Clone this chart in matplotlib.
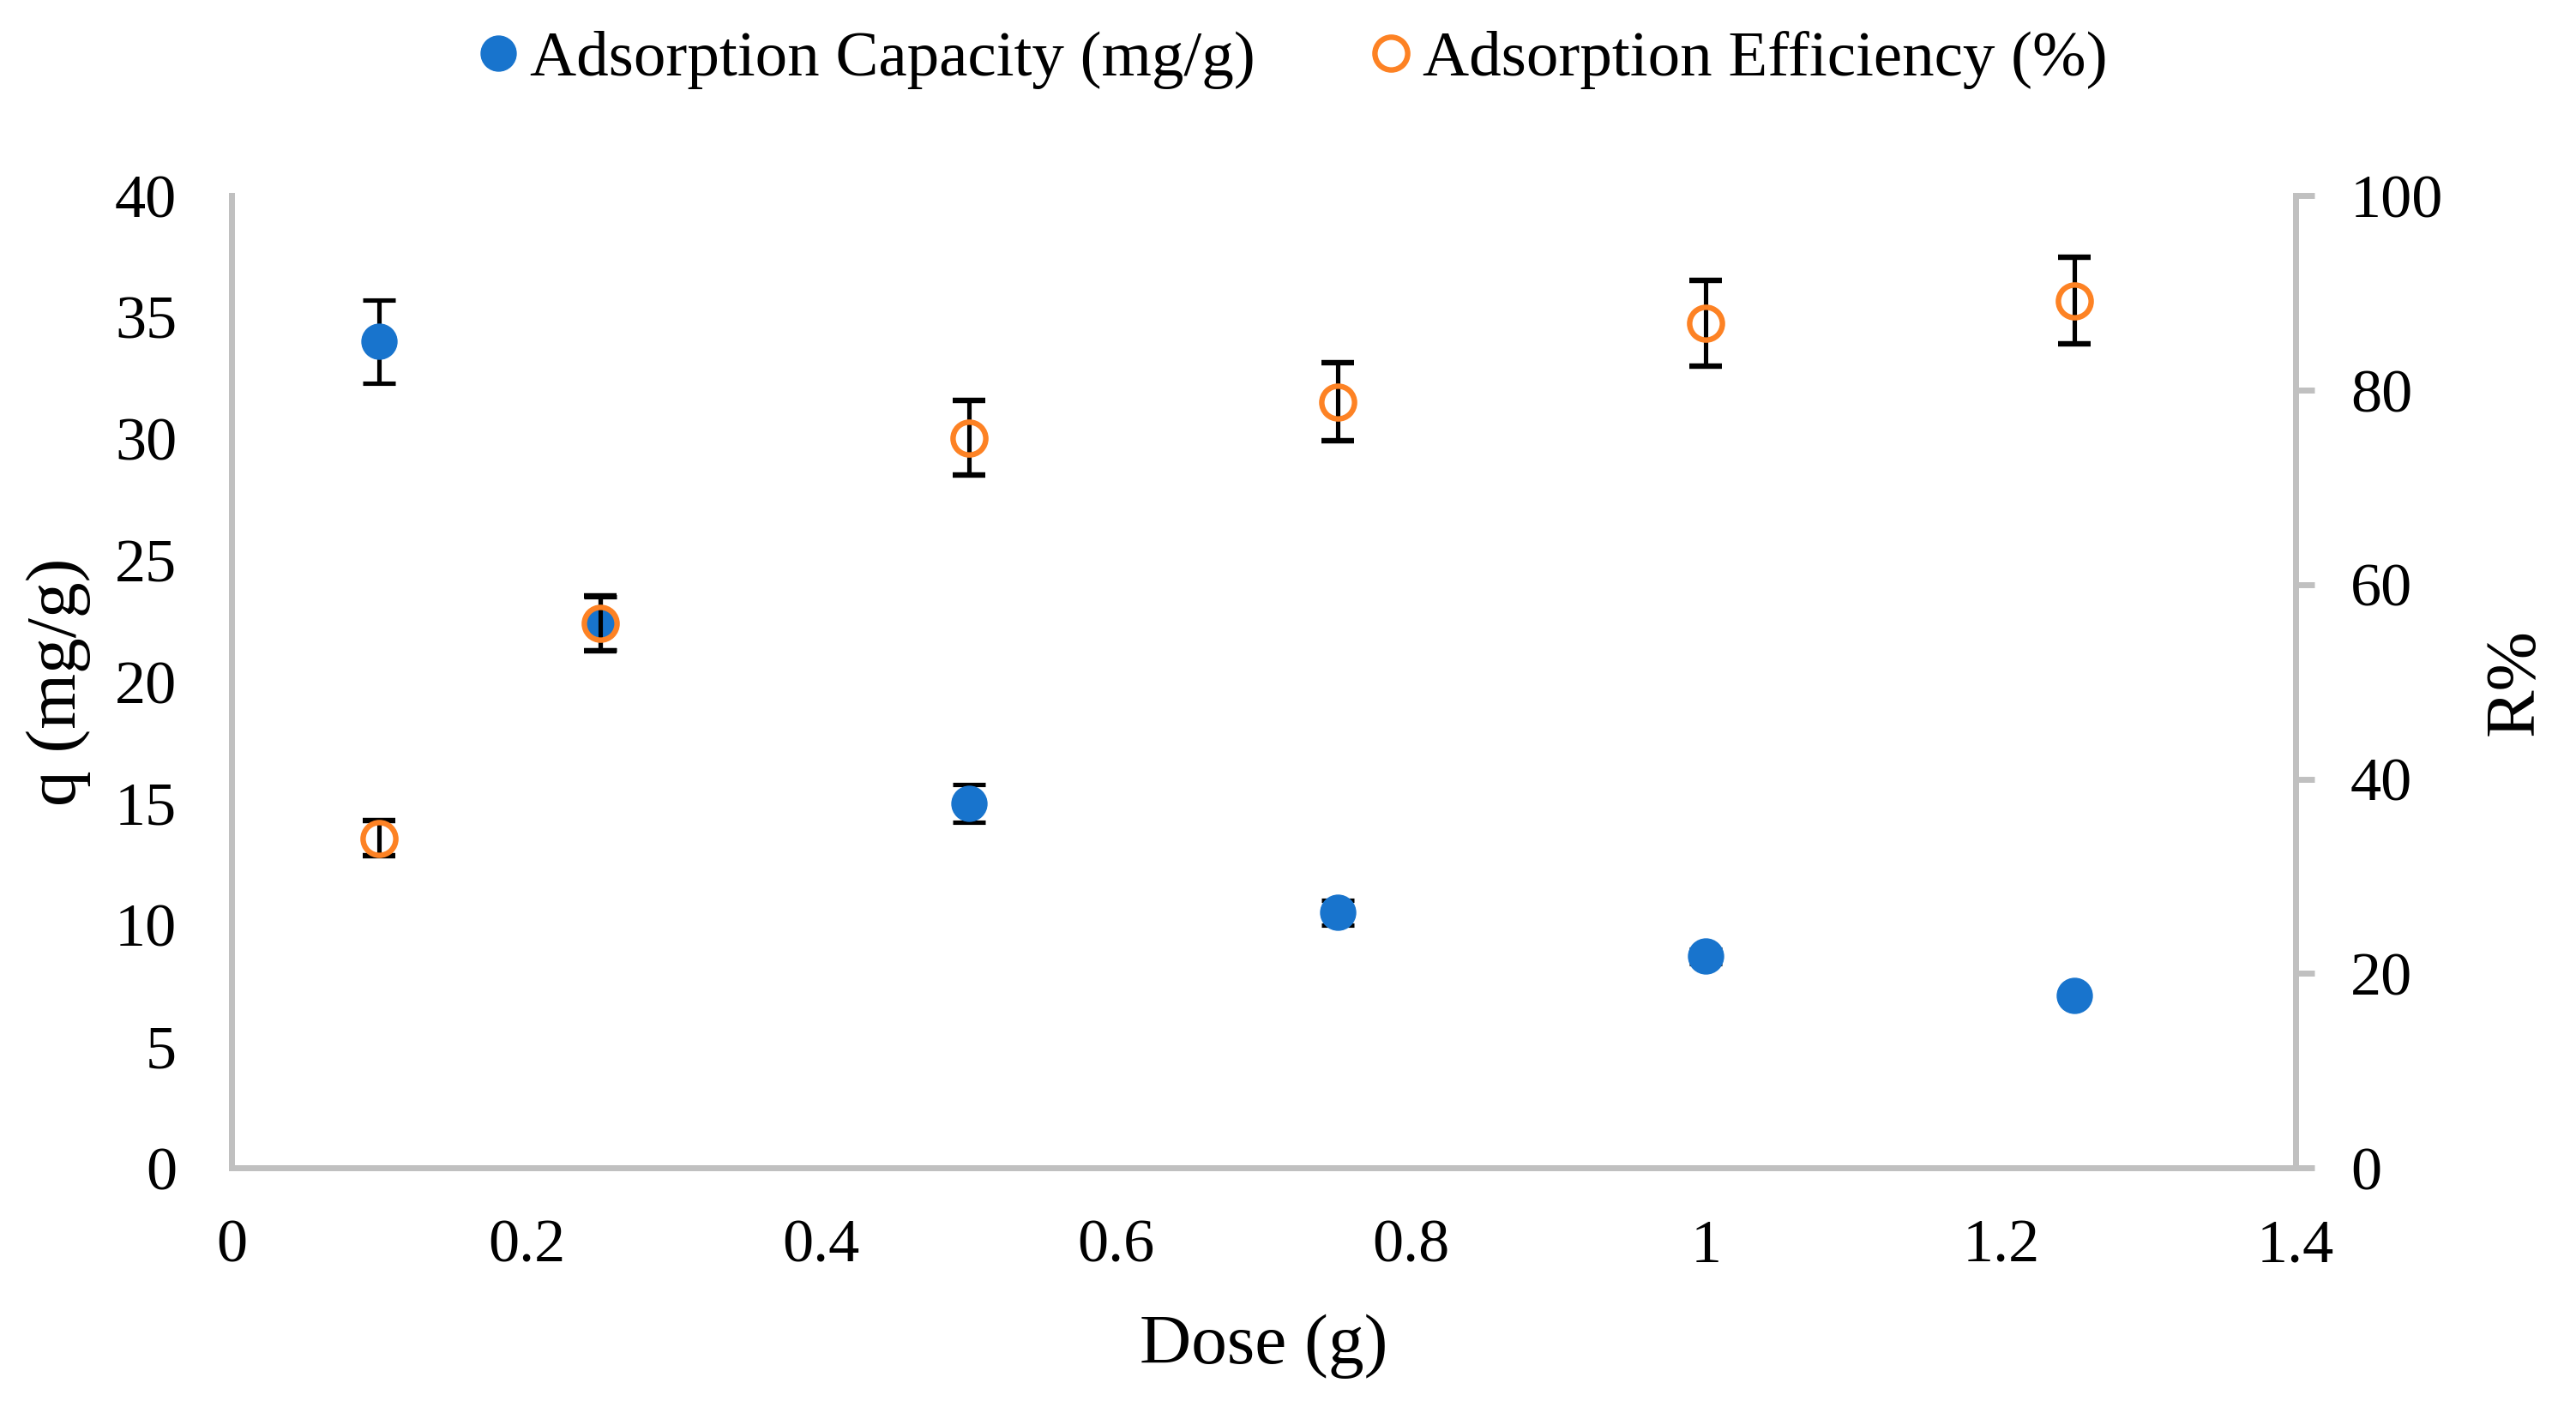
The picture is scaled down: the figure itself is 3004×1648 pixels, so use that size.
import matplotlib
matplotlib.use("Agg")
import matplotlib.pyplot as plt
from matplotlib.lines import Line2D

# data
dose = [0.1, 0.25, 0.5, 0.75, 1.0, 1.25]
capacity = [34.0, 22.4, 15.0, 10.5, 8.7, 7.1]        # q (mg/g)
capacity_err = [1.7, 1.1, 0.77, 0.5, 0.3, 0.15]
efficiency = [33.9, 56.0, 75.1, 78.8, 86.9, 89.2]    # R%
efficiency_err = [1.8, 2.8, 3.8, 4.0, 4.4, 4.45]

x_ticks = [0, 0.2, 0.4, 0.6, 0.8, 1.0, 1.2, 1.4]
x_labels = ["0", "0.2", "0.4", "0.6", "0.8", "1", "1.2", "1.4"]
q_ticks = [0, 5, 10, 15, 20, 25, 30, 35, 40]
r_ticks = [0, 20, 40, 60, 80, 100]

blue = "#1874cd"
orange = "#fd8224"
grey = "#c0c0c0"

plt.rcParams["font.family"] = ["Liberation Serif", "DejaVu Serif"]

fig = plt.figure(figsize=(30.04, 16.48), dpi=100)
ax = fig.add_axes([0.0899, 0.1735, 0.8013, 0.688])
ax2 = ax.twinx()

# capacity on left axis
ax.errorbar(dose, capacity, yerr=capacity_err, fmt="o", color=blue,
            markersize=29.5, ecolor="black", elinewidth=3.7,
            capsize=14, capthick=3.7, zorder=3)

# efficiency on right axis
ax2.errorbar(dose, efficiency, yerr=efficiency_err, fmt="o", color=orange,
             markerfacecolor="none", markeredgecolor=orange, markeredgewidth=4.6,
             markersize=27.5, ecolor="black", elinewidth=3.7, capsize=14,
             capthick=3.7, zorder=3)

ax.set_xlim(0, 1.4)
ax.set_ylim(0, 40)
ax2.set_ylim(0, 100)

ax.set_xticks(x_ticks)
ax.set_xticklabels(x_labels)
ax.set_yticks(q_ticks)
ax2.set_yticks(r_ticks)

for a in (ax, ax2):
    for s in a.spines.values():
        s.set_color(grey)
        s.set_linewidth(5)
    a.spines["top"].set_visible(False)

ax.tick_params(axis="x", length=0, pad=43, labelsize=52)
ax.tick_params(axis="y", length=0, pad=46, labelsize=52)
ax2.tick_params(axis="y", length=16, width=5, color=grey, pad=30, labelsize=52)

ax.set_xlabel("Dose (g)", fontsize=60, va="baseline")
ax.set_ylabel("q (mg/g)", fontsize=60, va="baseline")
ax2.set_ylabel("R%", fontsize=60, va="baseline")
ax.xaxis.set_label_coords(0.5, -0.201)
ax.yaxis.set_label_coords(-0.0756, 0.5)
ax2.yaxis.set_label_coords(1.1147, 0.5)

handles = [
    Line2D([], [], ls="none", marker="o", markersize=29.5, color=blue),
    Line2D([], [], ls="none", marker="o", markersize=27.5, markerfacecolor="none",
           markeredgecolor=orange, markeredgewidth=4.6),
]
fig.legend(handles, ["Adsorption Capacity (mg/g)", "Adsorption Efficiency (%)"],
           loc="center", bbox_to_anchor=(0.502, 0.9575), ncol=2, frameon=False,
           fontsize=54, handletextpad=0.2, columnspacing=1.8, handlelength=0.6)

fig.savefig("out.png", dpi=100)
